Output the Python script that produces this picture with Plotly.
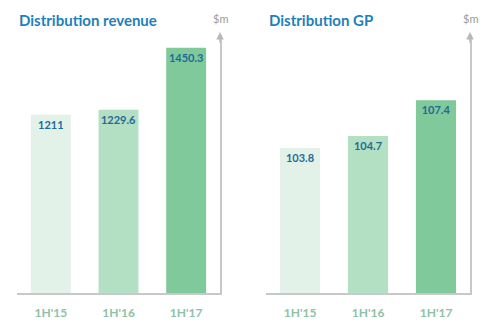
import plotly.graph_objects as go

categories = ["1H'15", "1H'16", "1H'17"]
revenue = [1211, 1229.6, 1450.3]
gp = [103.8, 104.7, 107.4]
revenue_labels = ["1211", "1229.6", "1450.3"]
gp_labels = ["103.8", "104.7", "107.4"]
titles = ["Distribution revenue", "Distribution GP"]
unit = "$m"

bar_colors = ["#e2f2e8", "#b3dfc3", "#80c99b"]
W, H = 490, 325

def px(x):
    return x / W

def py(y):
    return 1 - y / H

label_font = dict(family="Lato", size=11, color="#1f6a98")

fig = go.Figure()
fig.add_trace(go.Bar(x=categories, y=revenue, text=["<b>%s</b>" % s for s in revenue_labels],
                     xaxis="x", yaxis="y",
                     marker=dict(color=bar_colors, line=dict(width=0)),
                     textposition="inside", insidetextanchor="end", textangle=0,
                     insidetextfont=label_font, constraintext="none", hoverinfo="skip"))
fig.add_trace(go.Bar(x=categories, y=gp, text=["<b>%s</b>" % s for s in gp_labels],
                     xaxis="x2", yaxis="y2",
                     marker=dict(color=bar_colors, line=dict(width=0)),
                     textposition="inside", insidetextanchor="end", textangle=0,
                     insidetextfont=label_font, constraintext="none", hoverinfo="skip"))

ydom = [py(293), py(35)]
axis_line = dict(showline=True, linecolor="#c8c8c8", linewidth=1.5, showgrid=False,
                 zeroline=False, ticks="")
tickf = dict(family="Lato", size=12, color="#8dc2a6", weight="bold")
fig.update_layout(
    width=W, height=H, margin=dict(l=0, r=0, t=0, b=0),
    paper_bgcolor="white", plot_bgcolor="white", showlegend=False,
    bargap=0.41,
    xaxis=dict(domain=[px(17), px(220)], anchor="y", tickfont=tickf, ticklabelstandoff=8, **axis_line),
    yaxis=dict(domain=ydom, anchor="x", range=[575, 1496], side="right", showticklabels=False, **axis_line),
    xaxis2=dict(domain=[px(266), px(470)], anchor="y2", tickfont=tickf, ticklabelstandoff=8, **axis_line),
    yaxis2=dict(domain=ydom, anchor="x2", range=[92.9, 112.3], side="right", showticklabels=False, **axis_line),
)

annotations = []
for xl, t in [(17, titles[0]), (267, titles[1])]:
    annotations.append(dict(x=px(xl), y=py(20), xref="paper", yref="paper", text=t, showarrow=False,
                            xanchor="left", yanchor="middle",
                            font=dict(family="Lato", size=15, color="#1e7fba", weight="bold")))
for xa in [220, 470]:
    annotations.append(dict(x=px(xa), y=py(19), xref="paper", yref="paper", text=unit, showarrow=False,
                            xanchor="center", yanchor="middle",
                            font=dict(family="Lato", size=11, color="#9a9a9a")))
    annotations.append(dict(x=px(xa), y=py(32), xref="paper", yref="paper", text="",
                            showarrow=True, ax=0, ay=12, arrowhead=2, arrowsize=1,
                            arrowwidth=1.5, arrowcolor="#b8b8b8"))
fig.update_layout(annotations=annotations)

fig.write_html("out.html")
